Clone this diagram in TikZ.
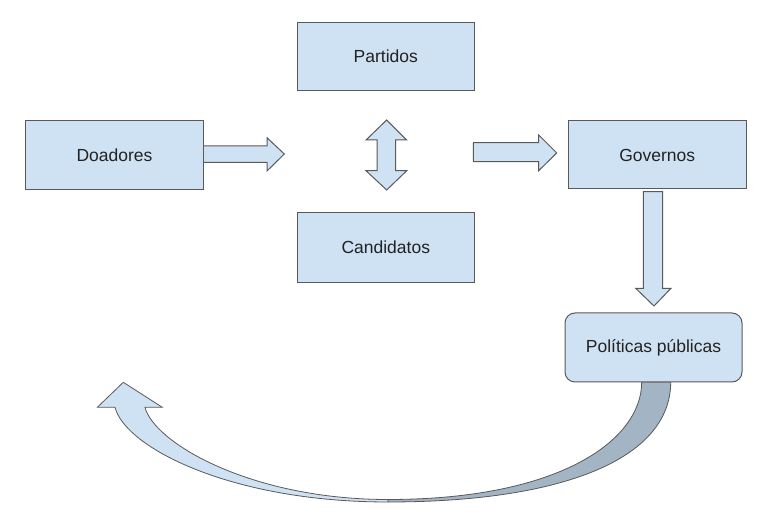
\documentclass[tikz,border=0pt]{standalone}
\usepackage{fontspec}
\setmainfont{Liberation Sans}
\definecolor{boxblue}{HTML}{CFE2F3}
\definecolor{darkblue}{HTML}{A3B4C4}
\definecolor{edgegray}{HTML}{595959}
\definecolor{txtgray}{HTML}{222222}
\begin{document}
\begin{tikzpicture}[x=1pt,y=-1pt,
  box/.style={draw=edgegray, fill=boxblue, line width=1pt, text=txtgray,
    font=\fontsize{17.5}{21}\selectfont, inner sep=0pt},
  blockarrow/.style={draw=edgegray, fill=boxblue, line width=1pt, line join=miter},
  backarrow/.style={draw=edgegray, fill=darkblue, line width=0.8pt, line join=round}]
\useasboundingbox (0,0) rectangle (772,518);

% curved arrow (back, dark part)
\path[backarrow] (388,502) .. controls (560,502) and (670.7,460) .. (670.7,382)
  -- (641.7,382) .. controls (641.7,440) and (560,499.5) .. (388,499.5) -- cycle;
% curved arrow (front, light part with head)
\path[blockarrow, line width=0.8pt] (388,502) .. controls (230,502) and (125,447) .. (115,407.3)
  -- (97.3,407.3) -- (123.3,382.3) -- (162.3,407.3) -- (145,407.3)
  .. controls (153.75,442.3) and (250,499.5) .. (388,499.5) -- cycle;

% block arrows
\path[blockarrow] (203.3,146) -- (267,146) -- (267,137.7) -- (284.3,154) -- (267,171)
  -- (267,162.3) -- (203.3,162.3) -- cycle;
\path[blockarrow] (386.7,120) -- (406.7,140) -- (395.5,140) -- (395.5,170.7) -- (406.7,170.7)
  -- (386.7,190) -- (366,170.7) -- (377,170.7) -- (377,140) -- (366,140) -- cycle;
\path[blockarrow] (473.3,142.7) -- (538.7,142.7) -- (538.7,135) -- (556.7,153) -- (538.7,170.7)
  -- (538.7,161.7) -- (473.3,161.7) -- cycle;
\path[blockarrow] (643.3,191.7) -- (662.7,191.7) -- (662.7,288.3) -- (671,288.3) -- (654,306)
  -- (635.7,288.3) -- (643.3,288.3) -- cycle;

% boxes
\node[box, minimum width=177.6pt, minimum height=68.6pt] (doadores) at (114.5,155) {Doadores};
\node[box, minimum width=177pt, minimum height=68pt] (partidos) at (385.8,56.7) {Partidos};
\node[box, minimum width=177pt, minimum height=70pt] (candidatos) at (385.8,247.7) {Candidatos};
\node[box, minimum width=177.7pt, minimum height=68pt] (governos) at (657.2,155) {Governos};
\node[box, rounded corners=10pt, minimum width=177pt, minimum height=69pt] (politicas) at (653.5,347.5) {Políticas públicas};
\end{tikzpicture}
\end{document}
